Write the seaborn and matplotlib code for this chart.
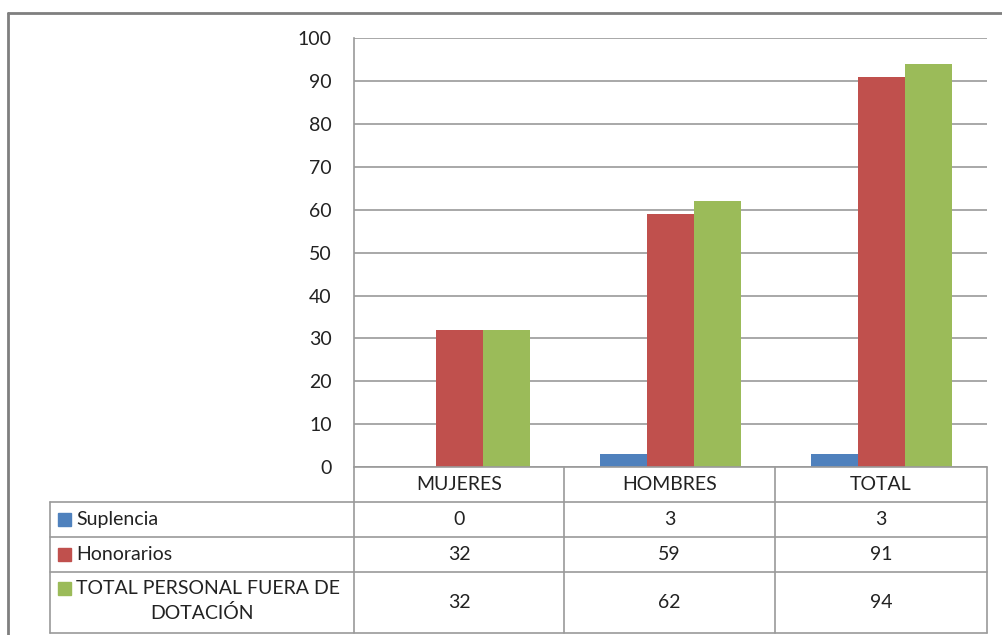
import numpy as np
import pandas as pd
import matplotlib
matplotlib.use("Agg")
import matplotlib.pyplot as plt
from matplotlib.lines import Line2D
from matplotlib.patches import Rectangle
import seaborn as sns

################################################
# Data
################################################
categories = ["MUJERES", "HOMBRES", "TOTAL"]
series_names = ["Suplencia", "Honorarios", "TOTAL PERSONAL FUERA DE\nDOTACIÓN"]
suplencia = [0, 3, 3]
honorarios = [32, 59, 91]
total_fuera = [32, 62, 94]
y_ticks = [0, 10, 20, 30, 40, 50, 60, 70, 80, 90, 100]

colors = ["#4F81BD", "#C0504D", "#9BBB59"]

df = pd.DataFrame({
  "categoria": categories * 3,
  "serie": [series_names[0]] * 3 + [series_names[1]] * 3 + [series_names[2]] * 3,
  "valor": suplencia + honorarios + total_fuera,
})

################################################
# Style
################################################
sns.set_style("white")
plt.rcParams["font.family"] = ["Lato", "DejaVu Sans"]
TEXT_COLOR = "#222222"
GRID_COLOR = "#9a9a9a"
FS = 14

W, H = 1002, 635
fig = plt.figure(figsize=(W / 100, H / 100), dpi=100)

def fx(x):
  return x / W

def fy(y):
  return 1 - y / H

# plot area in pixels
X0, X1 = 354, 987
Y_TOP, Y_ZERO = 38.3, 467
ax = fig.add_axes([fx(X0), fy(Y_ZERO), fx(X1) - fx(X0), fy(Y_TOP) - fy(Y_ZERO)])

sns.barplot(
  data=df, x="categoria", y="valor", hue="serie",
  order=categories, hue_order=series_names,
  palette=colors, width=0.667, saturation=1,
  edgecolor="none", linewidth=0, legend=False, ax=ax,
)

ax.set_xlim(-0.5, 2.5)
ax.set_ylim(0, 100)
ax.set_yticks(y_ticks)
ax.set_yticklabels([str(t) for t in y_ticks], fontsize=FS, color=TEXT_COLOR)
ax.tick_params(axis="y", length=0, pad=16)
ax.set_xticks([])
ax.set_xlabel("")
ax.set_ylabel("")
ax.yaxis.grid(True, color=GRID_COLOR, linewidth=1.2)
ax.set_axisbelow(True)
for side in ["top", "right", "bottom"]:
  ax.spines[side].set_visible(False)
ax.spines["left"].set_color(GRID_COLOR)
ax.spines["left"].set_linewidth(1.2)

################################################
# Data table below the axis
################################################
TABLE_LEFT = 50
col_edges = [X0, 564, 775, X1]
row_edges = [Y_ZERO, 501.7, 536.7, 571.7, 632.7]

def hline(x0, x1, y):
  fig.add_artist(Line2D([fx(x0), fx(x1)], [fy(y), fy(y)], color=GRID_COLOR, linewidth=1.2))

def vline(x, y0, y1):
  fig.add_artist(Line2D([fx(x), fx(x)], [fy(y0), fy(y1)], color=GRID_COLOR, linewidth=1.2))

hline(X0, X1, row_edges[0])
for y in row_edges[1:]:
  hline(TABLE_LEFT, X1, y)
for x in col_edges:
  vline(x, row_edges[0], row_edges[-1])
vline(TABLE_LEFT, row_edges[1], row_edges[-1])

# header row
for i, cat in enumerate(categories):
  cx = (col_edges[i] + col_edges[i + 1]) / 2
  cy = (row_edges[0] + row_edges[1]) / 2
  fig.text(fx(cx), fy(cy), cat, ha="center", va="center", fontsize=FS, color=TEXT_COLOR)

# value rows
all_values = [suplencia, honorarios, total_fuera]
for r, (name, vals, col) in enumerate(zip(series_names, all_values, colors)):
  top, bottom = row_edges[r + 1], row_edges[r + 2]
  cy = (top + bottom) / 2
  for i, v in enumerate(vals):
    cx = (col_edges[i] + col_edges[i + 1]) / 2
    fig.text(fx(cx), fy(cy), str(v), ha="center", va="center", fontsize=FS, color=TEXT_COLOR)
  # legend key
  if "\n" in name:
    key_y = top + 17
    fig.add_artist(Rectangle((fx(58), fy(key_y + 6.5)), fx(13), 13 / H, color=col))
    first, second = name.split("\n")
    fig.text(fx(76), fy(key_y), first, ha="left", va="center", fontsize=FS, color=TEXT_COLOR)
    fig.text(fx((TABLE_LEFT + X0) / 2), fy(key_y + 24), second, ha="center", va="center", fontsize=FS, color=TEXT_COLOR)
  else:
    fig.add_artist(Rectangle((fx(58), fy(cy + 6.5)), fx(13), 13 / H, color=col))
    fig.text(fx(76), fy(cy), name, ha="left", va="center", fontsize=FS, color=TEXT_COLOR)

################################################
# Outer chart frame
################################################
FRAME = "#7f7f7f"
fig.add_artist(Line2D([fx(8), 1.0], [fy(13), fy(13)], color=FRAME, linewidth=2))
fig.add_artist(Line2D([fx(8), fx(8)], [fy(13), 0.0], color=FRAME, linewidth=2))

fig.savefig("out.png", dpi=100)
